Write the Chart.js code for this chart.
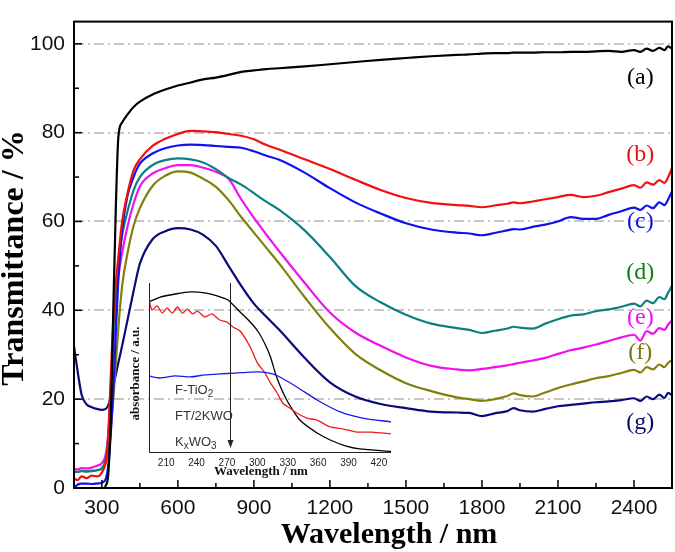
<!DOCTYPE html>
<html>
<head>
<meta charset="utf-8">
<script src="https://cdn.jsdelivr.net/npm/chart.js@4.4.1/dist/chart.umd.min.js"></script>
<style>
    body { margin: 0; background: #fff; }
    #caixa { position: relative; width: 675px; height: 552px; }
    #grafico1 { position: absolute; left: 0; top: 0; }
    #grafico2 { position: absolute; left: 120px; top: 270px; }
</style>
</head>
<body>
<div id="caixa">
    <canvas id="grafico1" width="675" height="552"></canvas>
    <canvas id="grafico2" width="280" height="220"></canvas>
</div>
<script>
// comprimento de onda (nm) comum a todas as curvas do grafico principal
const comprimentos = [190, 205, 220, 240, 260, 280, 300, 315, 325, 335, 345, 355, 365, 380, 400, 425, 450,
    500, 550, 600, 650, 700, 750, 800, 850, 900, 950, 1000, 1100, 1200, 1300, 1400, 1500, 1600, 1700,
    1750, 1800, 1850, 1900, 1925, 1950, 2000, 2050, 2100, 2150, 2200, 2250, 2300, 2350, 2400,
    2425, 2450, 2475, 2500, 2520, 2535, 2550];

// transmitancia (%) de cada amostra
const curvaA = [-2, -2, -2, -2, -2, -1.5, -1, 0.5, 3, 15, 40, 63, 79, 82.3, 84, 85.8, 87,
    88.6, 89.7, 90.6, 91.3, 92, 92.4, 93, 93.7, 94, 94.3, 94.5, 94.9, 95.4, 95.9, 96.4, 96.8, 97.2, 97.5,
    97.6, 97.8, 97.9, 97.9, 98, 98, 98, 98.1, 98.1, 98.2, 98.2, 98.3, 98.4, 98.2, 98.6,
    98.2, 98.9, 98.4, 99.1, 98.6, 99.4, 98.9];
const curvaB = [2.2, 1.8, 2.6, 2.2, 2.8, 2.6, 3.5, 6, 12, 25, 38, 46, 52, 60, 66, 71.5, 74,
    77, 78.6, 79.7, 80.4, 80.3, 80.1, 79.7, 79.3, 78.5, 77.2, 76.2, 74, 71.8, 69.4, 67.1, 65.3, 64.2, 63.7,
    63.5, 63.2, 63.6, 64, 64.3, 64.1, 64.5, 65, 65.5, 66, 65.5, 65.8, 66.6, 67.4, 68.2,
    67.6, 68.8, 68.3, 69.3, 68.7, 70, 72];
const curvaC = [0, 0.8, 1, 1, 0.9, 1, 1.2, 2, 5, 12, 22, 35, 47, 58, 65.5, 70, 73,
    75.3, 76.5, 77.1, 77.3, 77.2, 77, 76.8, 76.6, 75.8, 74.8, 73.9, 71, 67.5, 64.3, 61.8, 59.6, 58.2, 57.5,
    57.3, 56.9, 57.4, 58, 58.3, 58.2, 58.8, 59.3, 60, 61, 60.6, 60.6, 61.5, 62.3, 63.1,
    62.6, 63.6, 63, 64.3, 63.7, 65, 66.8];
const curvaD = [3.7, 3.6, 3.8, 3.7, 3.8, 4, 4.5, 6.5, 11, 22, 34, 44, 51, 57, 62, 67, 70,
    72.7, 73.8, 74.2, 74, 73.3, 71.8, 69.8, 68.3, 66.4, 64.4, 62.6, 58, 52, 45.5, 41.8, 39, 37, 36,
    35.6, 34.9, 35.4, 35.9, 36.3, 36.1, 35.9, 37, 38, 38.8, 39.1, 39.8, 40.2, 40.8, 41.5,
    40.9, 42.2, 41.6, 43, 42.5, 44, 45.5];
const curvaE = [4.3, 4.2, 4.5, 4.4, 4.6, 5, 5.6, 7.5, 12, 21, 32, 41, 47.5, 53, 58.6, 64, 67.9,
    70.8, 72, 72.7, 72.7, 72.1, 71.2, 69.6, 65, 60.8, 57, 53.3, 46.2, 39.5, 35, 32, 29.4, 27.5, 26.7,
    26.5, 26.8, 27.2, 27.6, 27.9, 28.2, 28.7, 29.3, 30.2, 31, 31.6, 32.3, 33.1, 33.9, 34.5,
    33.2, 35.3, 34.7, 36, 35.6, 36.8, 37.7];
const curvaF = [3.8, 3.6, 3.9, 3.8, 3.9, 4, 4.3, 5.5, 8, 13, 20, 28, 36, 45.5, 52.5, 59, 63,
    68, 70.3, 71.3, 71, 69.6, 67.8, 64.8, 61, 57.5, 54, 50.5, 43, 36, 30.2, 26.5, 23.6, 21.8, 20.4,
    20, 19.6, 20, 20.7, 21.3, 20.9, 20.6, 21.5, 22.5, 23.3, 24, 24.7, 25.2, 25.9, 26.6,
    26, 27.2, 26.7, 27.8, 27.2, 28.2, 28.8];
const curvaG = [32, 26, 21, 18.8, 18.2, 17.8, 17.6, 17.8, 18.6, 20.4, 23, 25.5, 28.2, 32, 37.5, 44.3, 50.5,
    56, 57.8, 58.5, 58.2, 57, 54.5, 50, 45.5, 41.5, 38.5, 35.6, 29.3, 23.8, 20.6, 18.9, 18, 17.2, 17,
    16.9, 16.2, 16.8, 17.3, 18, 17.5, 17.2, 17.8, 18.4, 18.7, 19, 19.3, 19.5, 19.8, 20.2,
    19.6, 20.6, 20, 21, 20.3, 21.4, 20.9];

const rotulos = ['(a)', '(b)', '(c)', '(d)', '(e)', '(f)', '(g)'];
const ticksX = [300, 600, 900, 1200, 1500, 1800, 2100, 2400];
const ticksY = [0, 20, 40, 60, 80, 100];

// grafico pequeno (absorbancia)
const insetTicksX = [210, 240, 270, 300, 330, 360, 390, 420];
const insetNomes = ['F-TiO2', 'FT/2KWO', 'KxWO3'];
const insetWlPreto = [193, 204, 219, 234, 248, 261, 271, 283, 293, 301, 308, 313, 319, 329, 342, 359, 372, 387, 401, 432];
const insetPreto = [0.888, 0.917, 0.935, 0.947, 0.941, 0.923, 0.899, 0.828, 0.769, 0.710, 0.633, 0.562, 0.444, 0.308,
    0.189, 0.112, 0.071, 0.036, 0.018, 0.004];
const insetWlVermelho = [193, 196, 201, 206, 211, 216, 221, 226, 231, 236, 241, 248, 255, 263, 270, 276, 283, 293, 300,
    307, 313, 319, 325, 332, 339, 349, 359, 372, 385, 398, 413, 432];
const insetVermelho = [0.899, 0.840, 0.864, 0.822, 0.852, 0.822, 0.858, 0.822, 0.846, 0.817, 0.834, 0.799, 0.817, 0.781,
    0.769, 0.740, 0.716, 0.621, 0.527, 0.473, 0.408, 0.355, 0.290, 0.260, 0.231, 0.201, 0.189, 0.148, 0.136, 0.118,
    0.118, 0.107];
const insetWlAzul = [193, 204, 219, 234, 248, 263, 278, 293, 305, 315, 324, 339, 359, 382, 404, 432];
const insetAzul = [0.450, 0.438, 0.450, 0.444, 0.456, 0.462, 0.467, 0.473, 0.473, 0.462, 0.438, 0.385, 0.308, 0.237,
    0.201, 0.178];

const serif = '"Liberation Serif", "Times New Roman", serif';
const sans = '"Liberation Sans", Arial, sans-serif';

window.onload = function () {
    graficoPrincipal();
    graficoInset();
}

function pares(xs, ys) {
    return xs.map((x, i) => ({ x: x, y: ys[i] }));
}

function graficoPrincipal() {
    const curvas = [curvaA, curvaB, curvaC, curvaD, curvaE, curvaF, curvaG];
    const cores = ['#000000', '#f01010', '#1010f0', '#0a8080', '#f010f0', '#80800a', '#0a0a7a'];
    const coresRotulo = ['#000000', '#e81010', '#1010e0', '#108010', '#f010f0', '#77770a', '#0a0a6a'];

    const moldura = {
        id: 'moldura',
        beforeDatasetsDraw(chart) {
            const { ctx, chartArea: a, scales: { y } } = chart;
            ctx.save();
            ctx.strokeStyle = '#b4b4b4';
            ctx.lineWidth = 1.6;
            ctx.setLineDash([10, 4, 2, 4]);
            ticksY.forEach(v => {
                if (v === 0) return;
                const py = Math.round(y.getPixelForValue(v));
                ctx.beginPath();
                ctx.moveTo(a.left, py);
                ctx.lineTo(a.right, py);
                ctx.stroke();
            });
            ctx.restore();
        },
        afterDatasetsDraw(chart) {
            const { ctx, chartArea: a, scales: { x, y } } = chart;
            ctx.save();
            ctx.strokeStyle = '#000';
            ctx.lineWidth = 2;
            ctx.strokeRect(a.left, a.top, a.right - a.left, a.bottom - a.top);

            // marcas para dentro
            ctx.lineWidth = 1.5;
            ticksX.forEach((v, i) => {
                const px = x.getPixelForValue(v);
                ctx.beginPath(); ctx.moveTo(px, a.bottom); ctx.lineTo(px, a.bottom - 8); ctx.stroke();
                if (i < ticksX.length - 1) {
                    const pm = x.getPixelForValue((v + ticksX[i + 1]) / 2);
                    ctx.beginPath(); ctx.moveTo(pm, a.bottom); ctx.lineTo(pm, a.bottom - 5); ctx.stroke();
                }
            });
            ticksY.forEach((v, i) => {
                const py = y.getPixelForValue(v);
                ctx.beginPath(); ctx.moveTo(a.left, py); ctx.lineTo(a.left + 8, py); ctx.stroke();
                if (i < ticksY.length - 1) {
                    const pm = y.getPixelForValue((v + ticksY[i + 1]) / 2);
                    ctx.beginPath(); ctx.moveTo(a.left, pm); ctx.lineTo(a.left + 5, pm); ctx.stroke();
                }
            });

            // rotulos das curvas
            const posY = [92.3, 75.1, 60, 48.5, 38.4, 30.4, 14.6];
            ctx.font = '24px ' + serif;
            ctx.textAlign = 'center';
            ctx.textBaseline = 'middle';
            rotulos.forEach((r, i) => {
                ctx.fillStyle = coresRotulo[i];
                ctx.fillText(r, x.getPixelForValue(2425), y.getPixelForValue(posY[i]));
            });

            // titulos dos eixos
            ctx.fillStyle = '#000';
            ctx.font = 'bold 30px ' + serif;
            ctx.fillText('Wavelength / nm', 389, 535);
            ctx.translate(15, 258);
            ctx.rotate(-Math.PI / 2);
            ctx.font = 'bold 32px ' + serif;
            ctx.fillText('Transmittance / %', 0, 0);
            ctx.restore();
        }
    };

    const ctx = document.getElementById('grafico1').getContext('2d');
    const myChart = new Chart(ctx, {
        type: 'line',
        data: {
            datasets: curvas.map((c, i) => ({
                label: rotulos[i],
                data: pares(comprimentos, c),
                borderColor: cores[i],
                borderWidth: 2.2,
                pointRadius: 0,
                cubicInterpolationMode: 'monotone'
            }))
        },
        options: {
            responsive: false,
            animation: false,
            layout: { padding: { top: 2, right: 3, left: 0, bottom: 0 } },
            plugins: { legend: { display: false }, tooltip: { enabled: false } },
            scales: {
                x: {
                    type: 'linear', min: 190, max: 2550,
                    afterBuildTicks: s => { s.ticks = ticksX.map(v => ({ value: v })); },
                    afterFit: s => { s.height = 64; },
                    grid: { display: false, drawTicks: false },
                    border: { display: false },
                    ticks: {
                        font: { family: sans, size: 21 }, color: '#111', padding: 8, maxRotation: 0, autoSkip: false,
                        callback: v => String(v)
                    }
                },
                y: {
                    min: 0, max: 105,
                    afterBuildTicks: s => { s.ticks = ticksY.map(v => ({ value: v })); },
                    afterFit: s => { s.width = 74; },
                    grid: { display: false, drawTicks: false },
                    border: { display: false },
                    ticks: { font: { family: sans, size: 21 }, color: '#111', padding: 9, callback: v => String(v) }
                }
            }
        },
        plugins: [moldura]
    });
}

function graficoInset() {
    const desenhos = {
        id: 'desenhos',
        afterDatasetsDraw(chart) {
            const { ctx, chartArea: a, scales: { x, y } } = chart;
            ctx.save();
            ctx.strokeStyle = '#222';
            ctx.lineWidth = 1;
            ctx.beginPath();
            ctx.moveTo(a.left + 0.5, a.top);
            ctx.lineTo(a.left + 0.5, a.bottom + 0.5);
            ctx.lineTo(a.right, a.bottom + 0.5);
            ctx.stroke();

            // seta
            const sx = Math.round(x.getPixelForValue(273)) + 0.5;
            const y1 = y.getPixelForValue(1);
            const y2 = y.getPixelForValue(0.03);
            ctx.beginPath(); ctx.moveTo(sx, y1); ctx.lineTo(sx, y2); ctx.stroke();
            ctx.fillStyle = '#222';
            ctx.beginPath(); ctx.moveTo(sx, y2 + 1); ctx.lineTo(sx - 3, y2 - 7); ctx.lineTo(sx + 3, y2 - 7); ctx.closePath(); ctx.fill();

            // legendas com subscrito
            ctx.fillStyle = '#333';
            ctx.textBaseline = 'middle';
            ctx.textAlign = 'left';
            const linhas = [120, 146, 172];
            insetNomes.forEach((nome, i) => {
                let px = 55;
                const partes = nome === 'F-TiO2' ? [['F-TiO', 0], ['2', 1]]
                    : nome === 'KxWO3' ? [['K', 0], ['x', 1], ['WO', 0], ['3', 1]]
                    : [[nome, 0]];
                partes.forEach(([t, sub]) => {
                    ctx.font = (sub ? '10px ' : '13px ') + sans;
                    ctx.fillText(t, px, linhas[i] + (sub ? 4 : 0));
                    px += ctx.measureText(t).width;
                });
            });

            // titulos
            ctx.fillStyle = '#111';
            ctx.textAlign = 'center';
            ctx.font = 'bold 13px ' + serif;
            ctx.fillText('Wavelength / nm', 141, 202);
            ctx.translate(15.5, 103.5);
            ctx.rotate(-Math.PI / 2);
            ctx.fillText('absorbance / a.u.', 0, 0);
            ctx.restore();
        }
    };

    const ctx = document.getElementById('grafico2').getContext('2d');
    const myChart = new Chart(ctx, {
        type: 'line',
        data: {
            datasets: [
                { label: 'F-TiO2', data: pares(insetWlAzul, insetAzul), borderColor: '#1a1ae6' },
                { label: 'FT/2KWO', data: pares(insetWlVermelho, insetVermelho), borderColor: '#ee1a1a' },
                { label: 'KxWO3', data: pares(insetWlPreto, insetPreto), borderColor: '#000000' }
            ].map(d => Object.assign(d, { borderWidth: 1.3, pointRadius: 0, tension: 0.2 }))
        },
        options: {
            responsive: false,
            animation: false,
            layout: { padding: { left: 29, top: 13, right: 9, bottom: 0 } },
            plugins: { legend: { display: false }, tooltip: { enabled: false } },
            scales: {
                x: {
                    type: 'linear', min: 193, max: 432,
                    afterBuildTicks: s => { s.ticks = insetTicksX.map(v => ({ value: v })); },
                    afterFit: s => { s.height = 38; },
                    grid: { display: false, drawTicks: false },
                    border: { display: false },
                    ticks: { font: { family: sans, size: 10 }, color: '#222', padding: 5, maxRotation: 0, autoSkip: false }
                },
                y: { display: false, min: 0, max: 1 }
            }
        },
        plugins: [desenhos]
    });
}
</script>
</body>
</html>
